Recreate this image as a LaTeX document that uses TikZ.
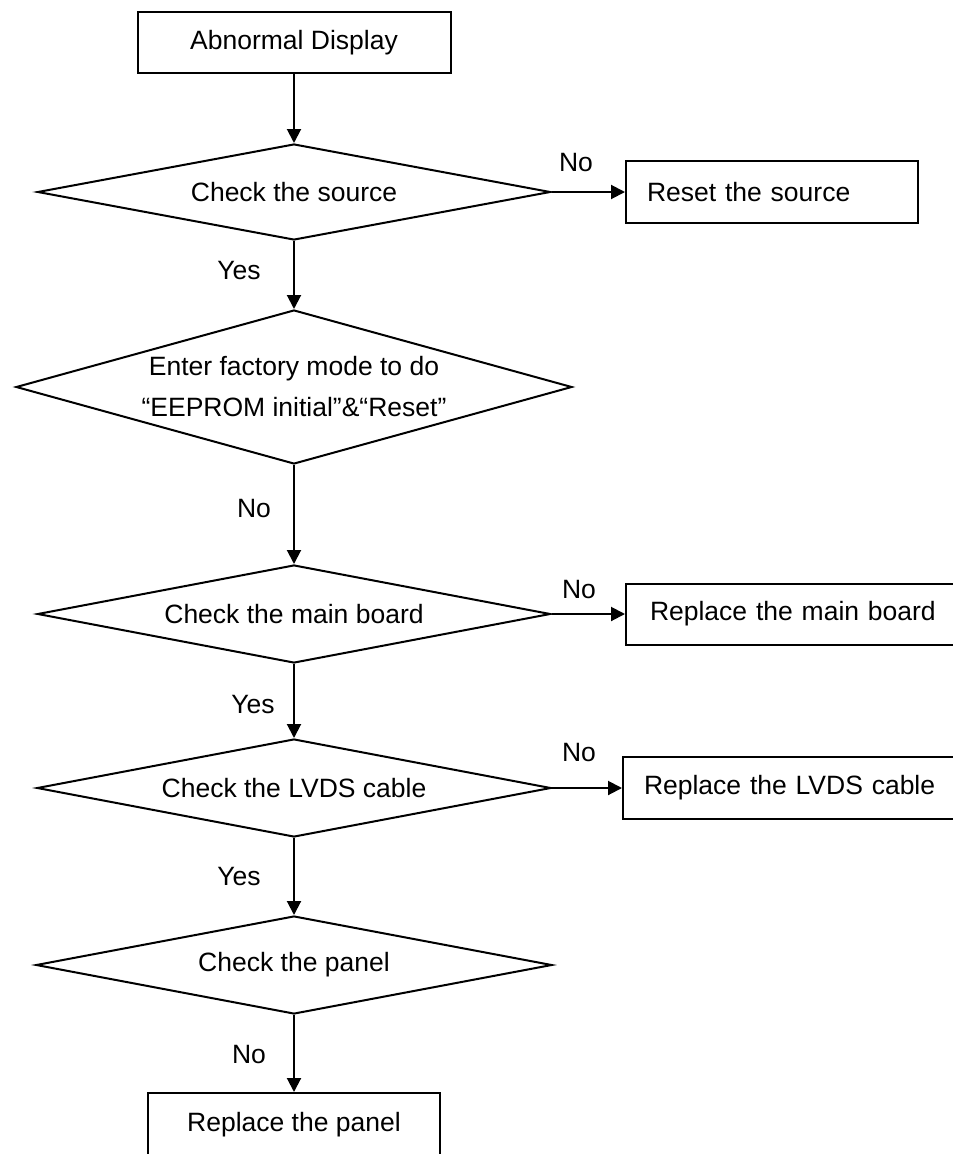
\documentclass[tikz,border=0pt]{standalone}
\usepackage{fontspec}
\setmainfont{Liberation Sans}
\usetikzlibrary{shapes.geometric,arrows.meta}
\begin{document}
\begin{tikzpicture}[x=1pt,y=-1pt,
  every node/.style={font=\fontsize{26.5}{41}\selectfont},
  box/.style={draw,line width=2pt,rectangle,inner sep=0pt},
  lbox/.style={box,align=left,inner ysep=0pt},
  dia/.style={draw,line width=2pt,diamond,inner sep=0pt},
  lbl/.style={inner sep=0pt},
  arr/.style={line width=2pt,-{Triangle[length=14pt,width=14pt]}}]
\useasboundingbox (0,0) rectangle (953,1154);

\node[box,minimum width=313pt,minimum height=61pt] (b0) at (294,42.5) {Abnormal Display};
\node[dia,minimum width=513pt,minimum height=96pt,aspect=5.34] (d1) at (294,192) {Check the source};
\node[lbox,text width=250pt,inner xsep=21pt,minimum height=62pt] (r1) at (772,192) {Reset the source};
\node[dia,minimum width=556pt,minimum height=154pt,aspect=3.6,align=center] (d2) at (294,387)
  {Enter factory mode to do\\“EEPROM initial”\&“Reset”};
\node[dia,minimum width=513pt,minimum height=98pt,aspect=5.23] (d3) at (294,614) {Check the main board};
\node[lbox,text width=301pt,inner xsep=24pt,minimum height=61pt] (r3) at (800.5,614) {Replace the main board};
\node[dia,minimum width=514pt,minimum height=98pt,aspect=5.24] (d4) at (294,788) {Check the LVDS cable};
\node[lbox,text width=310pt,inner xsep=21pt,minimum height=62pt] (r4) at (799,788) {Replace the LVDS cable};
\node[dia,minimum width=516pt,minimum height=98pt,aspect=5.27] (d5) at (294,965) {Check the panel};
\node[box,minimum width=292pt,minimum height=63pt] (b5) at (294,1124.5) {Replace the panel};

\node[lbl] (n1) at (576,163) {No};
\node[lbl] (y1) at (239,271) {Yes};
\node[lbl] (n2) at (254,509) {No};
\node[lbl] (n3) at (579,590) {No};
\node[lbl] (y3) at (253,705) {Yes};
\node[lbl] (n4) at (579,753) {No};
\node[lbl] (y4) at (239,877) {Yes};
\node[lbl] (n5) at (249,1055) {No};

\draw[arr] (b0.south) -- (d1.north);
\draw[arr] (d1.south) -- (d2.north);
\draw[arr] (d2.south) -- (d3.north);
\draw[arr] (d3.south) -- (d4.north);
\draw[arr] (d4.south) -- (d5.north);
\draw[arr] (d5.south) -- (b5.north);
\draw[arr] (d1.east) -- (r1.west);
\draw[arr] (d3.east) -- (r3.west);
\draw[arr] (d4.east) -- (r4.west);
\end{tikzpicture}
\end{document}
